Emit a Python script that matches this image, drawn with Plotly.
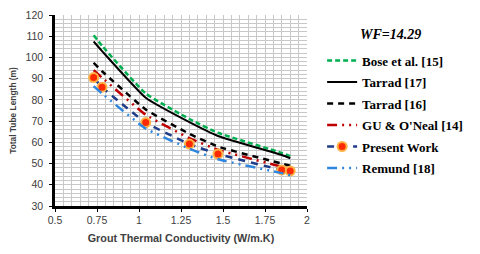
import plotly.graph_objects as go

x_vals = [0.73, 0.78, 1.04, 1.30, 1.47, 1.85, 1.90]
bose = [110.5, 105.5, 83.0, 71.0, 64.5, 55.0, 53.5]
tarrad17 = [107.5, 103.0, 81.0, 69.5, 63.0, 54.0, 52.5]
tarrad16 = [97.5, 93.5, 75.5, 64.0, 58.0, 50.0, 49.0]
gu_oneal = [94.0, 90.5, 73.0, 62.0, 56.5, 48.5, 47.5]
present = [90.5, 86.0, 69.3, 59.2, 54.5, 47.0, 46.5]
remund = [86.5, 83.0, 66.5, 57.0, 52.0, 45.5, 44.5]

names = ["Bose et al. [15]", "Tarrad [17]", "Tarrad [16]", "GU & O'Neal [14]",
         "Present Work", "Remund [18]"]
x_ticks = [0.5, 0.75, 1, 1.25, 1.5, 1.75, 2]
x_tick_text = ["0.5", "0.75", "1", "1.25", "1.5", "1.75", "2"]

fig = go.Figure()

styles = [
    (bose, dict(color="#00B050", width=2.5, dash="5px,3px"), None),
    (tarrad17, dict(color="#000000", width=2), None),
    (tarrad16, dict(color="#000000", width=2.5, dash="6px,5px"), None),
    (gu_oneal, dict(color="#C00000", width=2.5, dash="10px,5px,2px,5px,2px,5px"), None),
    (present, dict(color="#1F3C88", width=2.5, dash="7px,6px"),
     dict(color="#FF2A00", size=9, line=dict(color="#FFB347", width=2))),
    (remund, dict(color="#2E86DE", width=2.5, dash="10px,5px,2px,5px,2px,5px"), None),
]

for i, (ys, line, marker) in enumerate(styles):
    fig.add_trace(go.Scatter(
        x=x_vals, y=ys, name=names[i], legendgroup=f"g{i}",
        mode="lines+markers" if marker else "lines",
        line=dict(shape="spline", smoothing=0.4, **line),
        marker=marker,
    ))

fig.add_annotation(text="<b><i>WF=14.29</i></b>", xref="paper", yref="paper",
                   x=1.33, y=0.9, xanchor="center", yanchor="middle", showarrow=False,
                   font=dict(family="Liberation Serif", size=14, color="#000000"))

fig.update_layout(
    width=480, height=254,
    margin=dict(l=55, r=167, t=15, b=48),
    paper_bgcolor="white", plot_bgcolor="white",
    showlegend=True,
    legend=dict(x=1.06, y=0.84, xanchor="left", yanchor="top",
                font=dict(family="Liberation Serif", size=13, color="#000000", weight="bold"),
                itemwidth=30, tracegroupgap=1.6, bgcolor="rgba(0,0,0,0)"),
    font=dict(family="Liberation Sans", size=10, color="#404040"),
)

fig.update_xaxes(range=[0.5, 2], tickvals=x_ticks, ticktext=x_tick_text, automargin=False,
                 showline=True, linecolor="#000000", linewidth=2.5,
                 ticks="outside", ticklen=3, tickcolor="#000000",
                 showgrid=True, gridcolor="#C8C8C8", gridwidth=1,
                 minor=dict(dtick=0.05, showgrid=True, gridcolor="#C8C8C8", gridwidth=1),
                 tickfont=dict(size=10.5, color="#404040"),
                 title=dict(text="<b>Grout Thermal Conductivity (W/m.K)</b>",
                            font=dict(size=10.8, color="#404040"), standoff=10),
                 zeroline=False)
fig.update_yaxes(range=[30, 120], dtick=10, automargin=False,
                 showline=True, linecolor="#000000", linewidth=2.5,
                 ticks="outside", ticklen=3, tickcolor="#000000",
                 showgrid=True, gridcolor="#C8C8C8", gridwidth=1,
                 minor=dict(dtick=2, showgrid=True, gridcolor="#C8C8C8", gridwidth=1),
                 tickfont=dict(size=10.5, color="#404040"), ticklabelstandoff=4,
                 title=dict(text="<b>Total Tube Length (m)</b>",
                            font=dict(size=8.4, color="#404040"), standoff=8),
                 zeroline=False)

fig.write_html("out.html", config={"displayModeBar": False},
               post_script="document.body.style.margin='0';")
